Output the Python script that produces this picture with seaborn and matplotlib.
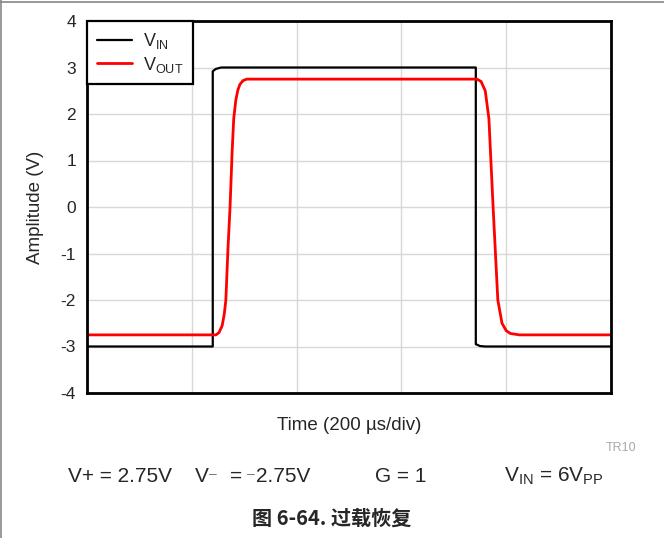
import matplotlib
matplotlib.use("Agg")
import matplotlib.pyplot as plt
import pandas as pd
import seaborn as sns

# Data (time in us, amplitude in V)
vin_time = [0, 240, 240, 246, 256, 742, 742, 750, 760, 1000]
vin_amp = [-3.0, -3.0, 2.92, 2.97, 3.0, 3.0, -2.95, -2.99, -3.0, -3.0]

vout_time = [0, 246, 252, 258, 262, 265, 269, 273, 277, 280, 284, 288, 292, 298, 305,
             744, 752, 760, 767, 775, 784, 792, 800, 808, 825, 1000]
vout_amp = [-2.75, -2.75, -2.70, -2.55, -2.3, -2.0, -0.9, 0.0, 1.2, 1.9, 2.3, 2.52, 2.64, 2.72, 2.75,
            2.75, 2.70, 2.5, 1.9, 0.0, -2.0, -2.5, -2.66, -2.72, -2.75, -2.75]

y_ticks = [-4, -3, -2, -1, 0, 1, 2, 3, 4]
x_grid = [0, 200, 400, 600, 800, 1000]

df = pd.concat([
    pd.DataFrame({"time": vin_time, "amp": vin_amp, "signal": "VIN"}),
    pd.DataFrame({"time": vout_time, "amp": vout_amp, "signal": "VOUT"}),
], ignore_index=True)

sns.set_style("white")
plt.rcParams["font.family"] = ["Liberation Sans", "DejaVu Sans"]
plt.rcParams["mathtext.fontset"] = "custom"
plt.rcParams["mathtext.rm"] = "Liberation Sans"

W, H = 664, 538
fig = plt.figure(figsize=(W / 100, H / 100), dpi=100)
ax = fig.add_axes([87 / W, 1 - 393 / H, 524 / W, 372 / H])

sns.lineplot(data=df, x="time", y="amp", hue="signal", estimator=None, sort=False,
             palette={"VIN": "black", "VOUT": "#ff0000"}, ax=ax, legend=False)
lines = ax.get_lines()
lines[0].set_linewidth(1.6)
lines[1].set_linewidth(2.0)

ax.set_xlim(0, 1000)
ax.set_ylim(-4, 4)
ax.set_yticks(y_ticks)
ax.set_yticklabels([str(v) for v in y_ticks])
ax.set_xticks(x_grid)
ax.set_xticklabels([])
ax.tick_params(length=0, labelsize=12.5, pad=8)
ax.grid(True, color="#d8d8d8", linewidth=1.0)
for s in ax.spines.values():
    s.set_color("black")
    s.set_linewidth(2.0)

ax.set_xlabel("Time (200 µs/div)", fontsize=13.5, labelpad=9)
ax.set_ylabel("Amplitude (V)", fontsize=13.5, labelpad=12)

leg = ax.legend(lines, [r"V$_\mathregular{IN}$", r"V$_\mathregular{OUT}$"],
                loc="upper left", borderaxespad=0, fancybox=False,
                fontsize=13, handlelength=1.95, labelspacing=0.2,
                borderpad=0.55, handletextpad=0.6)
leg.get_frame().set_edgecolor("black")
leg.get_frame().set_linewidth(1.6)
leg.get_frame().set_alpha(1)

# page border lines
fig.add_artist(plt.Line2D([0, 1], [1 - 2 / H, 1 - 2 / H], color="#888888", lw=1.2))
fig.add_artist(plt.Line2D([1 / W, 1 / W], [0, 1], color="#888888", lw=1.2))

fig.text(621 / W, 1 - 448 / H, "TR10", fontsize=9, color="#aaaaaa",
         ha="center", va="center")

ty = 1 - 476 / H
dy = 1 - 474.5 / H
fig.text(68 / W, ty, "V+ = 2.75V", fontsize=15, va="center")
fig.text(195 / W, ty, "V", fontsize=15, va="center")
fig.text(209 / W, dy, "–", fontsize=10, va="center", color="#777777")
fig.text(230 / W, ty, "=", fontsize=15, va="center")
fig.text(247 / W, dy, "–", fontsize=10, va="center", color="#777777")
fig.text(256 / W, ty, "2.75V", fontsize=15, va="center")
fig.text(375 / W, ty, "G = 1", fontsize=15, va="center")
fig.text(504 / W, ty, r"V$_\mathregular{IN}$ = 6V$_\mathregular{PP}$", fontsize=15, va="center")

fig.text(332 / W, 1 - 518 / H, "图 6-64. 过载恢复", fontsize=14.5, fontweight="bold",
         ha="center", va="center", family=["Noto Sans CJK SC", "Liberation Sans"])

fig.savefig("out.png", dpi=100)
